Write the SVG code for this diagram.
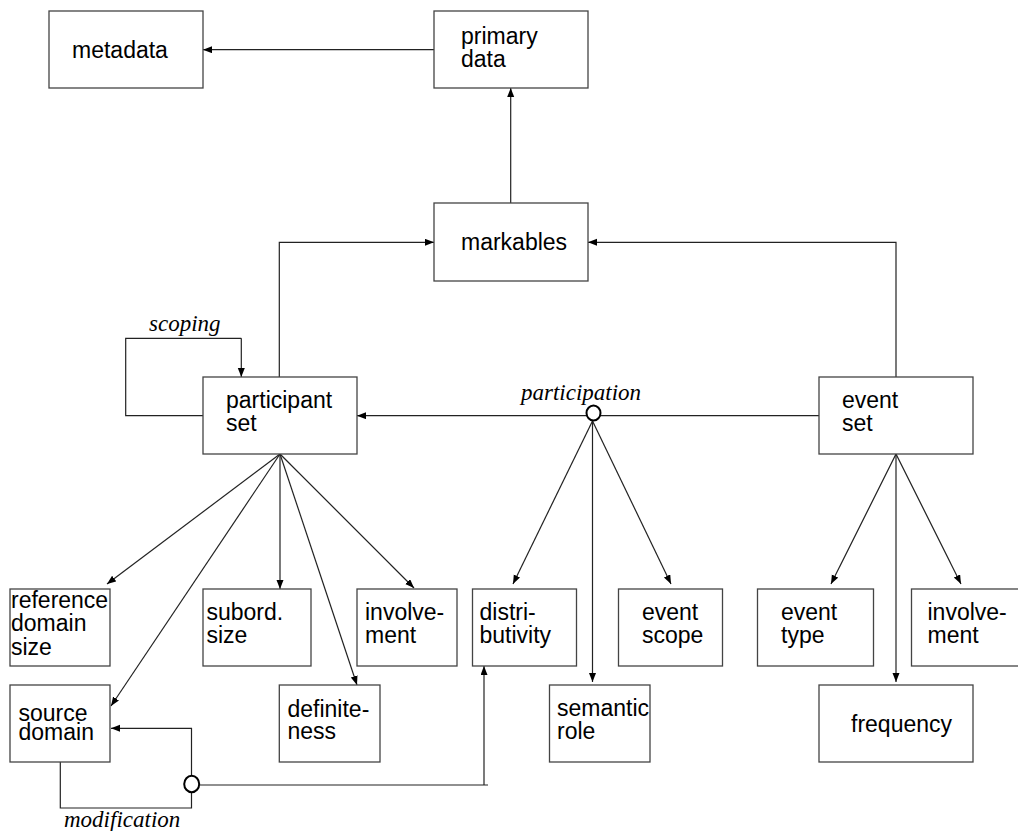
<svg xmlns="http://www.w3.org/2000/svg" width="1018" height="831" viewBox="0 0 1018 831">
<style>
.box{fill:#fff;stroke:#444;stroke-width:1.3}
.t{font-family:"Liberation Sans",Arial,sans-serif;font-size:23px;fill:#000}
.lbl{font-family:"Liberation Serif","Times New Roman",serif;font-style:italic;font-size:23px;fill:#000}
.c{fill:none;stroke:#222;stroke-width:1.2}
.ca{fill:none;stroke:#222;stroke-width:1.2;marker-end:url(#ah)}
.o{fill:#fff;stroke:#000;stroke-width:2}
</style>
<defs>
<marker id="ah" markerUnits="userSpaceOnUse" markerWidth="10" markerHeight="8" refX="9" refY="3.5" orient="auto">
<path d="M0,0 L9,3.5 L0,7 z" fill="#000"/>
</marker>
</defs>
<rect width="1018" height="831" fill="#fff"/>
<g id="connectors">
<path class="ca" d="M434,49.7 H203"/>
<path class="ca" d="M510.7,203 V88"/>
<path class="ca" d="M279.3,377 V242.3 H434"/>
<path class="ca" d="M896,377 V242.3 H588"/>
<path class="c" d="M241.3,338.3 H125.7 V415.7 H203"/>
<path class="ca" d="M241.3,338.3 V377"/>
<path class="ca" d="M819,415.7 H357"/>
<path class="ca" d="M280,454 L107,584"/>
<path class="ca" d="M280,454 L111,706"/>
<path class="ca" d="M280,454 L280,589"/>
<path class="ca" d="M280,454 L357,685"/>
<path class="ca" d="M280,454 L414,588"/>
<path class="ca" d="M592.5,421 L513,584"/>
<path class="ca" d="M592.5,421 L592.5,682"/>
<path class="ca" d="M592.5,421 L671,584"/>
<path class="ca" d="M896,454 L831,584"/>
<path class="ca" d="M896,454 L896,682"/>
<path class="ca" d="M896,454 L961,584"/>
<path class="c" d="M200,785 H488"/>
<path class="ca" d="M484,785 V666"/>
<path class="ca" d="M191.5,776 V728.3 H111"/>
<path class="c" d="M60.3,762 V808 H191.5 V792"/>
<ellipse class="o" cx="593.5" cy="413" rx="7" ry="7.5"/>
<ellipse class="o" cx="191.7" cy="784" rx="7.5" ry="8.2"/>
</g>
<g id="labels">
<text class="lbl" x="149" y="330.5">scoping</text>
<text class="lbl" x="521" y="400">participation</text>
<text class="lbl" x="64" y="826.5">modification</text>
</g>
<g id="metadata"><rect class="box" x="49" y="11" width="154" height="77"/><text class="t" x="72" y="57.5">metadata</text></g>
<g id="primary-data"><rect class="box" x="434" y="11" width="154" height="77"/><text class="t" x="461" y="43.5">primary</text><text class="t" x="461" y="66.5">data</text></g>
<g id="markables"><rect class="box" x="434" y="203" width="154" height="78"/><text class="t" x="461" y="249.5">markables</text></g>
<g id="participant-set"><rect class="box" x="203" y="377" width="154" height="77"/><text class="t" x="226" y="408">participant</text><text class="t" x="226" y="431">set</text></g>
<g id="event-set"><rect class="box" x="819" y="377" width="154" height="77"/><text class="t" x="842" y="408">event</text><text class="t" x="842" y="431">set</text></g>
<g id="reference-domain-size"><rect class="box" x="10" y="589" width="100" height="77"/><text class="t" x="11" y="607.5">reference</text><text class="t" x="11" y="631">domain</text><text class="t" x="11" y="654.5">size</text></g>
<g id="subord-size"><rect class="box" x="203" y="589" width="108" height="77"/><text class="t" x="206.5" y="620">subord.</text><text class="t" x="206.5" y="642.5">size</text></g>
<g id="involvement-p"><rect class="box" x="357" y="589" width="100" height="77"/><text class="t" x="365" y="620">involve-</text><text class="t" x="365" y="643">ment</text></g>
<g id="distributivity"><rect class="box" x="472.5" y="589" width="104" height="77"/><text class="t" x="479.5" y="619.5">distri-</text><text class="t" x="479.5" y="643">butivity</text></g>
<g id="event-scope"><rect class="box" x="618.5" y="589" width="104" height="77"/><text class="t" x="642" y="619.5">event</text><text class="t" x="642" y="643">scope</text></g>
<g id="event-type"><rect class="box" x="757.5" y="589" width="116" height="77"/><text class="t" x="781" y="620">event</text><text class="t" x="781" y="643">type</text></g>
<g id="involvement-e"><rect class="box" x="911.5" y="589" width="120" height="77"/><text class="t" x="927.5" y="620">involve-</text><text class="t" x="927.5" y="643">ment</text></g>
<g id="source-domain"><rect class="box" x="10" y="685" width="100" height="77"/><text class="t" x="18.5" y="720.5">source</text><text class="t" x="18.5" y="739.5">domain</text></g>
<g id="definiteness"><rect class="box" x="279.3" y="685" width="100.7" height="77"/><text class="t" x="287.5" y="716.5">definite-</text><text class="t" x="287.5" y="739">ness</text></g>
<g id="semantic-role"><rect class="box" x="549.5" y="685" width="100.5" height="77"/><text class="t" x="557" y="715.5">semantic</text><text class="t" x="557" y="738.5">role</text></g>
<g id="frequency"><rect class="box" x="819" y="685" width="154" height="77"/><text class="t" x="851" y="731.5">frequency</text></g>
</svg>
